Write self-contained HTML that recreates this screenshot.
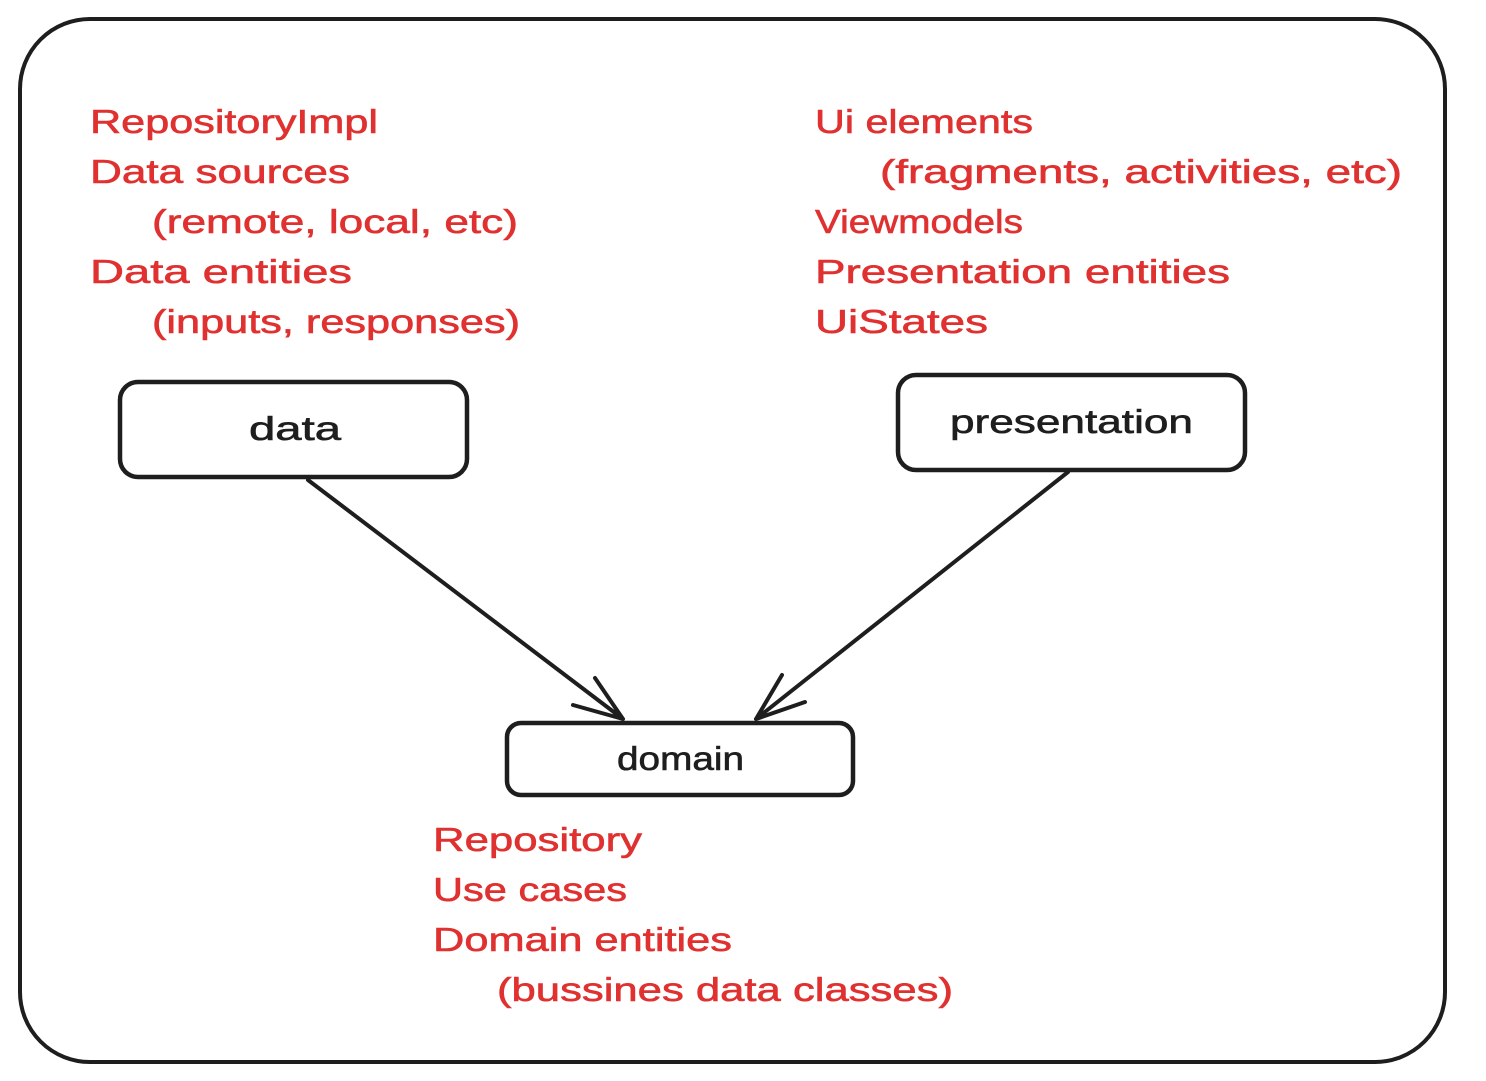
<!DOCTYPE html>
<html><head><meta charset="utf-8"><style>
html,body{margin:0;padding:0;background:#fff;width:1486px;height:1081px;overflow:hidden}
svg{display:block}
.r{fill:#e03131;font-family:"Liberation Sans",sans-serif;font-size:33px;stroke:#e03131;stroke-width:0.6}
.b{fill:#1e1e1e;font-family:"Liberation Sans",sans-serif;font-size:33px;stroke:#1e1e1e;stroke-width:0.6}
</style></head><body>
<svg width="1486" height="1081" viewBox="0 0 1486 1081">
<g fill="none" stroke="#1e1e1e" stroke-linecap="round" stroke-linejoin="round">
<rect x="20" y="19" width="1425" height="1043" rx="70" stroke-width="4"/>
<rect x="120" y="382" width="347" height="95" rx="18" stroke-width="4.5"/>
<rect x="898" y="375" width="347" height="95" rx="18" stroke-width="4.5"/>
<rect x="507" y="723" width="346" height="72" rx="14" stroke-width="4.5"/>
<path d="M308 480 L623 719 M595 678 L623 719 L573 705" stroke-width="4"/>
<path d="M1068 472 L756 719 M782 675 L756 719 L805 702" stroke-width="4"/>
</g>
<text class="b" x="249" y="440" textLength="92" lengthAdjust="spacingAndGlyphs">data</text>
<text class="b" x="950" y="433" textLength="243" lengthAdjust="spacingAndGlyphs">presentation</text>
<text class="b" x="617" y="770" textLength="127" lengthAdjust="spacingAndGlyphs">domain</text>
<text class="r" x="90" y="133" textLength="288" lengthAdjust="spacingAndGlyphs">RepositoryImpl</text>
<text class="r" x="90" y="183" textLength="260" lengthAdjust="spacingAndGlyphs">Data sources</text>
<text class="r" x="152" y="233" textLength="366" lengthAdjust="spacingAndGlyphs">(remote, local, etc)</text>
<text class="r" x="90" y="283" textLength="262" lengthAdjust="spacingAndGlyphs">Data entities</text>
<text class="r" x="152" y="333" textLength="368" lengthAdjust="spacingAndGlyphs">(inputs, responses)</text>
<text class="r" x="815" y="133" textLength="218" lengthAdjust="spacingAndGlyphs">Ui elements</text>
<text class="r" x="880" y="183" textLength="522" lengthAdjust="spacingAndGlyphs">(fragments, activities, etc)</text>
<text class="r" x="815" y="233" textLength="208" lengthAdjust="spacingAndGlyphs">Viewmodels</text>
<text class="r" x="815" y="283" textLength="415" lengthAdjust="spacingAndGlyphs">Presentation entities</text>
<text class="r" x="815" y="333" textLength="173" lengthAdjust="spacingAndGlyphs">UiStates</text>
<text class="r" x="433" y="851" textLength="209" lengthAdjust="spacingAndGlyphs">Repository</text>
<text class="r" x="433" y="901" textLength="194" lengthAdjust="spacingAndGlyphs">Use cases</text>
<text class="r" x="433" y="951" textLength="299" lengthAdjust="spacingAndGlyphs">Domain entities</text>
<text class="r" x="497" y="1001" textLength="456" lengthAdjust="spacingAndGlyphs">(bussines data classes)</text>
</svg>
</body></html>
